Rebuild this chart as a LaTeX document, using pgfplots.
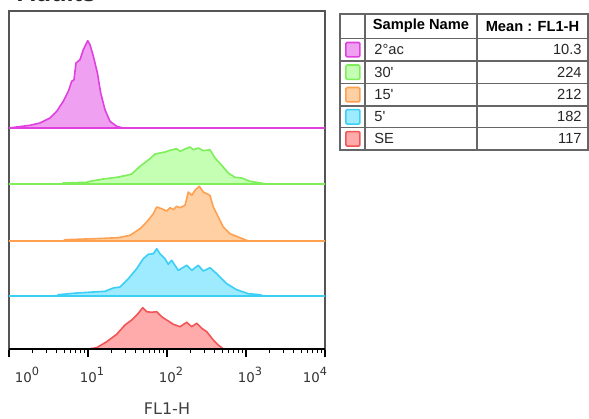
\documentclass[border=0pt]{standalone}
\usepackage{pgfplots}
\pgfplotsset{compat=1.18}
\usepackage{fontspec}
\setmainfont{DejaVu Sans}
\newfontfamily\tabfont{Liberation Sans}
\definecolor{mgL}{HTML}{E040E0}\definecolor{mgF}{HTML}{F0A0F0}
\definecolor{grL}{HTML}{7EEE5A}\definecolor{grF}{HTML}{C4FFB4}
\definecolor{orL}{HTML}{FFA050}\definecolor{orF}{HTML}{FFD0A4}
\definecolor{cyL}{HTML}{3CCFF5}\definecolor{cyF}{HTML}{9EEAFF}
\definecolor{rdL}{HTML}{F25555}\definecolor{rdF}{HTML}{FFABAB}
\definecolor{frame}{HTML}{555555}
\newcommand{\tl}[1]{10\raisebox{5.5pt}{\fontsize{8.5}{8.5}\selectfont #1}}
\begin{document}
\begin{tikzpicture}
\begin{axis}[
  at={(0,0)}, anchor=south west, scale only axis,
  width=237pt, height=253.5pt,
  xmin=0, xmax=4, ymin=0, ymax=338,
  axis line style={draw=frame, line width=1.2pt},
  ytick=\empty,
  xtick={0,1,2,3,4},
  xticklabels={\hspace*{27pt}\tl{0},\hspace*{6pt}\tl{1},\hspace*{6pt}\tl{2},\hspace*{6pt}\tl{3},\tl{4}\hspace*{15pt}},
  minor xtick={0.301,0.477,0.602,0.699,0.778,0.845,0.903,0.954,
               1.301,1.477,1.602,1.699,1.778,1.845,1.903,1.954,
               2.301,2.477,2.602,2.699,2.778,2.845,2.903,2.954,
               3.301,3.477,3.602,3.699,3.778,3.845,3.903,3.954},
  xtick pos=bottom, tick align=outside,
  major tick length=6pt, minor tick length=3pt,
  every tick/.style={black, line width=0.9pt},
  xticklabel style={font=\fontsize{10}{11}\selectfont, yshift=-4pt, text=black!80},
  xlabel={FL1-H},
  xlabel style={font=\fontsize{12}{14}\selectfont, at={(axis description cs:0.5,0)}, anchor=center, yshift=-45pt, text=black!75},
  every axis plot/.append style={line width=1.2pt, line join=round},
]
\addplot[draw=mgL, fill=mgF] coordinates {
(0,221) (0.097,222) (0.266,223.7) (0.392,226) (0.519,231) (0.604,237.7) (0.687,247.7) (0.751,257.7) (0.794,267.7) (0.823,269.3) (0.848,286) (0.899,289.3) (0.941,299.3) (0.996,308.3) (1.025,304.3) (1.068,292.7) (1.119,276) (1.161,256) (1.215,239.3) (1.278,227.7) (1.363,222.7) (1.447,221) (4,221)
} -- cycle;
\addplot[draw=grL, fill=grF] coordinates {
(0,165) (0.667,165) (0.687,166) (0.984,166.7) (1.025,167.7) (1.194,170) (1.363,171.7) (1.490,173.7) (1.553,175) (1.658,182.7) (1.785,190.3) (1.848,195) (1.911,196) (1.975,197) (2.038,198.7) (2.123,200.3) (2.165,197.7) (2.228,200) (2.291,202) (2.333,199.3) (2.396,201) (2.459,198.3) (2.544,199.3) (2.608,191) (2.692,183.7) (2.776,176) (2.861,171.7) (2.946,171) (3.051,167.7) (3.262,165) (4,165)
} -- cycle;
\addplot[draw=orL, fill=orF] coordinates {
(0,108) (0.687,108) (0.709,109.3) (1.089,110.3) (1.384,111.3) (1.532,113.7) (1.658,120.3) (1.743,127) (1.827,135.3) (1.870,142) (1.933,140.3) (1.996,138) (2.038,141.3) (2.080,139.3) (2.123,142.7) (2.165,141.3) (2.228,143.7) (2.270,157) (2.313,153.7) (2.354,158.7) (2.409,162.7) (2.459,157) (2.544,153.7) (2.586,142) (2.649,132) (2.713,122) (2.797,115.3) (2.924,111.3) (3.029,108) (4,108)
} -- cycle;
\addplot[draw=cyL, fill=cyF] coordinates {
(0,53) (0.604,53) (0.624,54.3) (0.857,56) (1.067,57) (1.215,57.7) (1.320,61) (1.405,62) (1.510,70.3) (1.616,80.3) (1.700,90.3) (1.763,94.7) (1.827,95.3) (1.870,100.3) (1.911,95.3) (1.975,90.3) (2.016,84.7) (2.059,88.7) (2.143,78.7) (2.249,83.7) (2.313,78.7) (2.396,83.7) (2.459,78) (2.544,81.3) (2.629,75.3) (2.756,65.3) (2.882,59.3) (3.029,55.3) (3.177,54.3) (3.219,53) (4,53)
} -- cycle;
\addplot[draw=rdL, fill=rdF] coordinates {
(1.004,0) (1.110,1.3) (1.237,7.3) (1.363,14.7) (1.468,24) (1.553,29) (1.637,35.7) (1.692,41.3) (1.743,37.3) (1.806,36.7) (1.870,37.3) (1.933,32.3) (1.996,29) (2.080,24.7) (2.165,22.3) (2.249,26.7) (2.313,22.3) (2.376,25.7) (2.439,20.7) (2.503,17.3) (2.586,9) (2.649,4) (2.713,0)
} -- cycle;
\draw[black, line width=1.3pt] (rel axis cs:0,0) -- (rel axis cs:1,0);
\end{axis}
% title (cut off at top as in the reference)
\node[anchor=base west, inner sep=0pt, font=\tabfont\bfseries\fontsize{19}{20}\selectfont, text=black!85] at (6pt,260.25pt) {Adults};
% legend table
\begin{scope}[tabfont/.style={font=\tabfont\fontsize{11}{12}\selectfont}]
\draw[black!60, line width=1.1pt] (248.25pt,149.25pt) rectangle (434.25pt,251.25pt);
\foreach \y in {233,216,199.3,182.25,166} \draw[black!60, line width=1.1pt] (248.25pt,\y pt) -- (434.25pt,\y pt);
\foreach \x in {267,351} \draw[black!60, line width=1.1pt] (\x pt,149.25pt) -- (\x pt,251.25pt);
\node[tabfont, font=\tabfont\bfseries\fontsize{11}{12}\selectfont] at (309pt,242.1pt) {Sample Name};
\node[tabfont, font=\tabfont\bfseries\fontsize{11}{12}\selectfont] at (392.6pt,242.1pt) {Mean : FL1-H};
\foreach \yc/\nm/\val/\lc/\fc in {224.5/2°ac/10.3/mgL/mgF, 207.6/30\textquotesingle/224/grL/grF, 190.7/15\textquotesingle/212/orL/orF, 174.1/5\textquotesingle/182/cyL/cyF, 157.6/SE/117/rdL/rdF}{
  \draw[draw=\lc, fill=\fc, line width=1.2pt, rounded corners=1pt] (252.6pt,\yc pt-5.4pt) rectangle (263.2pt,\yc pt+5.4pt);
  \node[tabfont, anchor=west, text=black!85] at (270.5pt,\yc pt) {\nm};
  \node[tabfont, anchor=east, text=black!85] at (433pt,\yc pt) {\val};
}
\end{scope}
\pgfresetboundingbox
\useasboundingbox (-6.75pt,-51.75pt) rectangle (435pt,261.75pt);
\end{tikzpicture}
\end{document}
